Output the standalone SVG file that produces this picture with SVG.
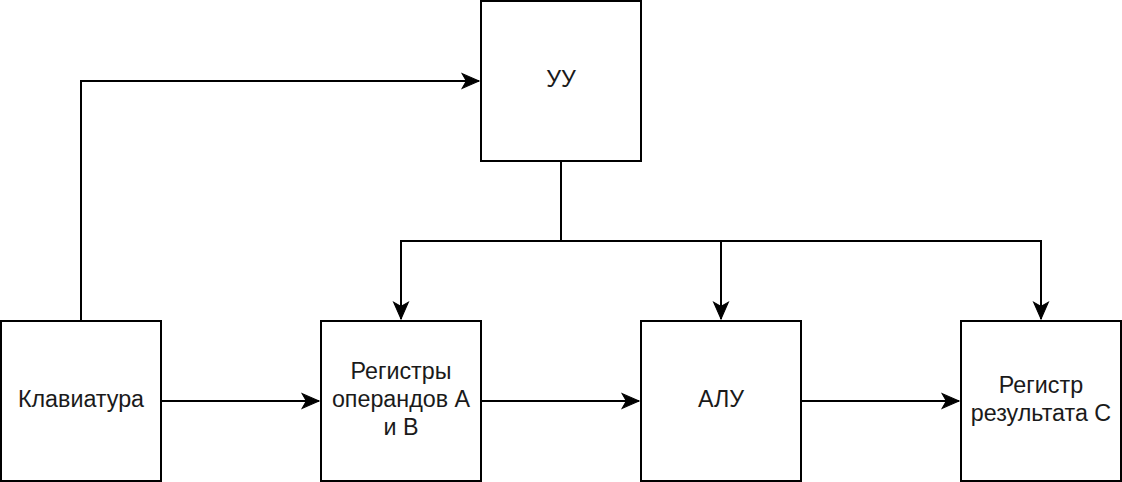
<svg xmlns="http://www.w3.org/2000/svg" width="1122" height="482" viewBox="0 0 1122 482">
<style>
.box{fill:#fff;stroke:#000;stroke-width:2}
.lbl{font-family:"Liberation Sans",Arial,sans-serif;font-size:23.3px;fill:#1a1a1a;text-anchor:middle}
.edge{fill:none;stroke:#000;stroke-width:2}
</style>
<defs>
<marker id="arr" markerUnits="userSpaceOnUse" markerWidth="20" markerHeight="20" viewBox="-17 -9 19 18" refX="0" refY="0" orient="auto" overflow="visible">
<path d="M0,0 L-16,-7 L-12,0 L-16,7 Z" fill="#000" stroke="#000" stroke-width="1"/>
</marker>
</defs>
<rect width="1122" height="482" fill="#fff"/>
<g id="connectors">
<path class="edge" d="M81,321 V81 H479" marker-end="url(#arr)"/>
<path class="edge" d="M561,161 V241 H401 V319" marker-end="url(#arr)"/>
<path class="edge" d="M561,241 H721 V319" marker-end="url(#arr)"/>
<path class="edge" d="M721,241 H1041 V319" marker-end="url(#arr)"/>
<path class="edge" d="M161,401 H319" marker-end="url(#arr)"/>
<path class="edge" d="M481,401 H639" marker-end="url(#arr)"/>
<path class="edge" d="M801,401 H959" marker-end="url(#arr)"/>
</g>
<g id="node-uu">
<rect class="box" x="481" y="1" width="160" height="160"/>
<text class="lbl" x="561" y="87">УУ</text>
</g>
<g id="node-keyboard">
<rect class="box" x="1" y="321" width="160" height="160"/>
<text class="lbl" x="81" y="407">Клавиатура</text>
</g>
<g id="node-registers">
<rect class="box" x="321" y="321" width="160" height="160"/>
<text class="lbl" x="401" y="378.5">Регистры</text>
<text class="lbl" x="401" y="407">операндов А</text>
<text class="lbl" x="401" y="435.3">и В</text>
</g>
<g id="node-alu">
<rect class="box" x="641" y="321" width="160" height="160"/>
<text class="lbl" x="721" y="407">АЛУ</text>
</g>
<g id="node-result">
<rect class="box" x="961" y="321" width="160" height="160"/>
<text class="lbl" x="1041" y="393">Регистр</text>
<text class="lbl" x="1041" y="421.3">результата С</text>
</g>
</svg>
